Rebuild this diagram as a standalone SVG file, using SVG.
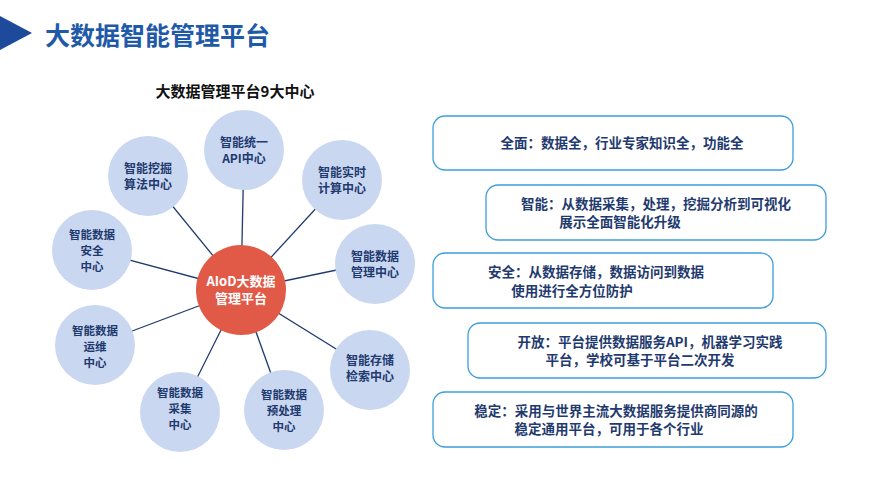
<svg xmlns="http://www.w3.org/2000/svg" width="889" height="500" viewBox="0 0 889 500">
<style>
text{font-family:"Noto Sans CJK SC","Liberation Sans",sans-serif;font-weight:bold;text-anchor:middle}
.sat{fill:#c9d7f1}
.st{fill:#1f3a6e;font-size:12px}
.s3{fill:#1f3a6e;font-size:11.5px}
.ln{stroke:#1f3a6e;stroke-width:1.3}
.box{fill:#fff;stroke:#3c9fdc;stroke-width:1.3}
.bt{fill:#1f3a6e;font-size:13.5px}
</style>
<rect width="889" height="500" fill="#fff"/>
<polygon points="0,16 32,33 0,50" fill="#1d4a9a"/>
<text x="45" y="45" style="text-anchor:start;font-size:25px;fill:#1f5aa8">大数据智能管理平台</text>
<text x="235" y="97" style="font-size:15px;fill:#111">大数据管理平台9大中心</text>
<g id="connectors">
<line class="ln" x1="241" y1="290" x2="244" y2="150"/>
<line class="ln" x1="241" y1="290" x2="342" y2="180"/>
<line class="ln" x1="241" y1="290" x2="375" y2="262"/>
<line class="ln" x1="241" y1="290" x2="370" y2="370"/>
<line class="ln" x1="241" y1="290" x2="284" y2="410"/>
<line class="ln" x1="241" y1="290" x2="180" y2="412"/>
<line class="ln" x1="241" y1="290" x2="95" y2="345"/>
<line class="ln" x1="241" y1="290" x2="92" y2="250"/>
<line class="ln" x1="241" y1="290" x2="148" y2="176"/>
</g>
<g id="n1"><circle class="sat" cx="244" cy="150" r="40"/><text class="st" x="244" y="147">智能统一</text><text class="st" x="244" y="163">API中心</text></g>
<g id="n2"><circle class="sat" cx="342" cy="180" r="40"/><text class="st" x="342" y="177">智能实时</text><text class="st" x="342" y="193">计算中心</text></g>
<g id="n3"><circle class="sat" cx="375" cy="264" r="40"/><text class="st" x="375" y="261">智能数据</text><text class="st" x="375" y="277">管理中心</text></g>
<g id="n4"><circle class="sat" cx="370" cy="370" r="40"/><text class="st" x="370" y="365">智能存储</text><text class="st" x="370" y="381">检索中心</text></g>
<g id="n5"><circle class="sat" cx="284" cy="410" r="40"/><text class="s3" x="284" y="399">智能数据</text><text class="s3" x="284" y="415">预处理</text><text class="s3" x="284" y="431">中心</text></g>
<g id="n6"><circle class="sat" cx="180" cy="412" r="40"/><text class="s3" x="180" y="397">智能数据</text><text class="s3" x="180" y="413">采集</text><text class="s3" x="180" y="429">中心</text></g>
<g id="n7"><circle class="sat" cx="95" cy="345" r="40"/><text class="s3" x="95" y="335">智能数据</text><text class="s3" x="95" y="351">运维</text><text class="s3" x="95" y="367">中心</text></g>
<g id="n8"><circle class="sat" cx="92" cy="250" r="40"/><text class="s3" x="92" y="239">智能数据</text><text class="s3" x="92" y="255">安全</text><text class="s3" x="92" y="271">中心</text></g>
<g id="n9"><circle class="sat" cx="148" cy="176" r="40"/><text class="st" x="148" y="173">智能挖掘</text><text class="st" x="148" y="189">算法中心</text></g>
<g id="center"><circle cx="241" cy="290" r="45" fill="#e05a47"/><text x="241" y="286" style="fill:#fff;font-size:13px">AIoD大数据</text><text x="241" y="303" style="fill:#fff;font-size:13px">管理平台</text></g>
<g id="b1"><rect class="box" x="433" y="116" width="360" height="54" rx="12"/><text class="bt" x="622" y="148">全面：数据全，行业专家知识全，功能全</text></g>
<g id="b2"><rect class="box" x="486" y="185" width="340" height="55" rx="12"/><text class="bt" x="656" y="209">智能：从数据采集，处理，挖掘分析到可视化</text><text class="bt" x="620" y="227">展示全面智能化升级</text></g>
<g id="b3"><rect class="box" x="433" y="253" width="340" height="55" rx="12"/><text class="bt" x="596" y="277">安全：从数据存储，数据访问到数据</text><text class="bt" x="572" y="296">使用进行全方位防护</text></g>
<g id="b4"><rect class="box" x="468" y="323" width="358" height="55" rx="12"/><text class="bt" x="650" y="347">开放：平台提供数据服务API，机器学习实践</text><text class="bt" x="640" y="365">平台，学校可基于平台二次开发</text></g>
<g id="b5"><rect class="box" x="433" y="392" width="360" height="55" rx="12"/><text class="bt" x="616" y="416">稳定：采用与世界主流大数据服务提供商同源的</text><text class="bt" x="609" y="434">稳定通用平台，可用于各个行业</text></g>
</svg>
